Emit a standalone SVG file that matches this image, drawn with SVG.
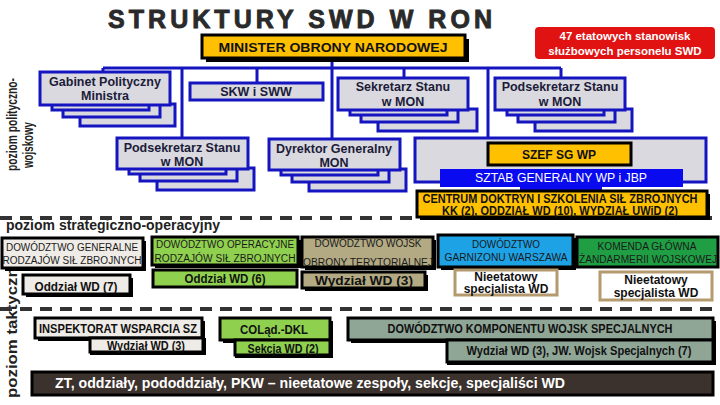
<svg xmlns="http://www.w3.org/2000/svg" width="720" height="405" viewBox="0 0 720 405">
<style>
.g{fill:#d9d9df;stroke:#1414c0;stroke-width:3}
.bt{font-family:"Liberation Sans",Arial,sans-serif;font-weight:bold;font-size:12.5px;fill:#1c1c3a;text-anchor:middle}
.bl{stroke:#1414c0;stroke-width:3;fill:none}
.sh{fill:#000}
.ob{stroke:#000;stroke-width:3}
.lt{font-family:"Liberation Sans",Arial,sans-serif;font-size:10px;fill:#1a1a1a;text-anchor:middle}
.bd{font-family:"Liberation Sans",Arial,sans-serif;font-weight:bold;font-size:12px;fill:#111;text-anchor:middle}
.dash{stroke:#333;stroke-width:4;stroke-dasharray:12 8;fill:none}
.side{font-family:"Liberation Sans",Arial,sans-serif;font-weight:bold;fill:#222}
</style>
<rect width="720" height="405" fill="#fff"/>

<!-- title -->
<text x="300" y="28" font-family="Liberation Sans,Arial,sans-serif" font-weight="bold" font-size="25" fill="#2a2a2a" stroke="#2a2a2a" stroke-width="0.9" text-anchor="middle" textLength="384" lengthAdjust="spacing">STRUKTURY SWD W RON</text>

<!-- connectors -->
<g id="connectors" class="bl">
<path d="M332 58V139"/>
<path d="M103 68H561"/>
<path d="M103 68V72"/>
<path d="M182 68V138"/>
<path d="M257 68V83"/>
<path d="M404 68V78"/>
<path d="M488 68V138"/>
<path d="M561 68V78"/>
</g>

<!-- minister -->
<g id="minister">
<rect class="sh" x="206" y="39" width="263" height="23"/>
<rect x="202" y="35" width="263" height="23" fill="#ffc000" class="ob"/>
<text x="333" y="52" class="bd" font-size="13" textLength="229" lengthAdjust="spacingAndGlyphs">MINISTER OBRONY NARODOWEJ</text>
</g>

<!-- red note -->
<g id="note">
<rect x="535" y="27" width="180" height="32" rx="4" fill="#e01212"/>
<text x="625" y="40" font-family="Liberation Sans,Arial,sans-serif" font-weight="bold" font-size="11.5" fill="#fff" text-anchor="middle">47 etatowych stanowisk</text>
<text x="625" y="55" font-family="Liberation Sans,Arial,sans-serif" font-weight="bold" font-size="11.5" fill="#fff" text-anchor="middle">służbowych personelu SWD</text>
</g>

<!-- side labels -->
<g id="side-labels">
<text class="side" font-size="14" transform="translate(17,171) rotate(-90)" textLength="93" lengthAdjust="spacingAndGlyphs">poziom polityczno-</text>
<text class="side" font-size="14" transform="translate(33,168) rotate(-90)" textLength="46" lengthAdjust="spacingAndGlyphs">wojskowy</text>
<text class="side" font-size="14" transform="translate(17,398) rotate(-90)" textLength="140" lengthAdjust="spacingAndGlyphs">poziom taktyczny</text>
<text class="side" x="6" y="230" font-size="14" textLength="214" lengthAdjust="spacingAndGlyphs">poziom strategiczno-operacyjny</text>
</g>

<!-- Gabinet -->
<g id="gabinet">
<rect class="g" x="80" y="104" width="95" height="22"/>
<rect class="g" x="63" y="104" width="97" height="13"/>
<rect class="g" x="52" y="104" width="97" height="6"/>
<rect class="g" x="40" y="72" width="130" height="33"/>
<text class="bt" x="105" y="86">Gabinet Polityczny</text>
<text class="bt" x="105" y="100">Ministra</text>
</g>

<!-- SKW -->
<g id="skw">
<rect class="g" x="190" y="83" width="133" height="17"/>
<text class="bt" x="256" y="96">SKW i SWW</text>
</g>

<!-- Sekretarz Stanu -->
<g id="sekretarz">
<rect class="g" x="378" y="109" width="99" height="22"/>
<rect class="g" x="361" y="109" width="97" height="13"/>
<rect class="g" x="350" y="109" width="97" height="6"/>
<rect class="g" x="338" y="78" width="130" height="32"/>
<text class="bt" x="403" y="91">Sekretarz Stanu</text>
<text class="bt" x="403" y="106">w MON</text>
</g>

<!-- Podsekretarz right -->
<g id="podsekretarz-1">
<rect class="g" x="535" y="109" width="97" height="22"/>
<rect class="g" x="518" y="109" width="97" height="13"/>
<rect class="g" x="507" y="109" width="97" height="6"/>
<rect class="g" x="495" y="78" width="130" height="32"/>
<text class="bt" x="560" y="91">Podsekretarz Stanu</text>
<text class="bt" x="560" y="106">w MON</text>
</g>

<!-- Podsekretarz left -->
<g id="podsekretarz-2">
<rect class="g" x="157" y="168" width="97" height="22"/>
<rect class="g" x="140" y="168" width="97" height="13"/>
<rect class="g" x="129" y="168" width="97" height="6"/>
<rect class="g" x="117" y="138" width="131" height="31"/>
<text class="bt" x="182" y="152">Podsekretarz Stanu</text>
<text class="bt" x="182" y="166">w MON</text>
</g>

<!-- Dyrektor -->
<g id="dyrektor">
<rect class="g" x="309" y="169" width="97" height="22"/>
<rect class="g" x="292" y="169" width="97" height="13"/>
<rect class="g" x="281" y="169" width="97" height="6"/>
<rect class="g" x="269" y="139" width="131" height="31"/>
<text class="bt" x="334" y="153">Dyrektor Generalny</text>
<text class="bt" x="334" y="167">MON</text>
</g>

<!-- dashed separators -->
<g id="separators">
<path class="dash" d="M0 218H720"/>
<path class="dash" d="M0 309H720"/>
</g>

<!-- Sztab Generalny -->
<g id="sztab">
<rect class="g" x="415" y="138" width="291" height="44"/>
<rect x="488" y="143" width="143" height="22" fill="#ffc000" class="ob"/>
<text class="bd" x="559" y="159" font-size="13">SZEF SG WP</text>
<rect x="440" y="169" width="243" height="18" fill="#0a0af0"/>
<rect x="520" y="186" width="82" height="5" fill="#0a0af0"/>
<text x="561" y="182" font-family="Liberation Sans,Arial,sans-serif" font-size="12" fill="#fff" text-anchor="middle" textLength="172" lengthAdjust="spacingAndGlyphs">SZTAB GENERALNY WP i JBP</text>
</g>

<!-- Centrum -->
<g id="centrum">
<rect class="sh" x="420" y="194" width="290" height="26"/>
<rect x="417" y="191" width="290" height="26" fill="#ffc000" class="ob"/>
<text class="bd" x="560" y="203" font-size="10" textLength="275" lengthAdjust="spacingAndGlyphs">CENTRUM DOKTRYN I SZKOLENIA SIŁ ZBROJNYCH</text>
<text class="bd" x="560" y="214.5" font-size="10" textLength="236" lengthAdjust="spacingAndGlyphs">KK (2), ODDZIAŁ WD (10), WYDZIAŁ UWiD (2)</text>
</g>

<!-- DGRSZ -->
<g id="dgrsz">
<rect class="sh" x="5" y="241" width="141" height="30"/>
<rect x="2" y="238" width="141" height="30" fill="#efebe6" class="ob"/>
<text class="lt" x="72" y="251" textLength="132" lengthAdjust="spacingAndGlyphs">DOWÓDZTWO GENERALNE</text>
<text class="lt" x="72" y="264" textLength="139" lengthAdjust="spacingAndGlyphs">RODZAJÓW SIŁ ZBROJNYCH</text>
<rect class="sh" x="26" y="278" width="107" height="19"/>
<rect x="23" y="275" width="107" height="19" fill="#efebe6" class="ob"/>
<text class="bd" x="76" y="291" textLength="83" lengthAdjust="spacingAndGlyphs">Oddział WD (7)</text>
</g>

<!-- DORSZ -->
<g id="dorsz">
<rect class="sh" x="155" y="240" width="146" height="28"/>
<rect x="152" y="237" width="146" height="28" fill="#8fd14f" class="ob"/>
<text class="lt" x="225" y="248" textLength="138" lengthAdjust="spacingAndGlyphs">DOWÓDZTWO OPERACYJNE</text>
<text class="lt" x="225" y="262" textLength="141" lengthAdjust="spacingAndGlyphs">RODZAJÓW SIŁ ZBROJNYCH</text>
<rect x="153" y="270" width="144" height="17" fill="#8fd14f" class="ob"/>
<text class="bd" x="225" y="283" textLength="81" lengthAdjust="spacingAndGlyphs">Oddział WD (6)</text>
</g>

<!-- DWOT -->
<g id="dwot">
<rect class="sh" x="305" y="240" width="131" height="30"/>
<rect x="302" y="237" width="131" height="30" fill="#b3aa83" class="ob"/>
<text class="lt" x="368" y="247" textLength="107" lengthAdjust="spacingAndGlyphs">DOWÓDZTWO WOJSK</text>
<text class="lt" x="368" y="266" textLength="130" lengthAdjust="spacingAndGlyphs">OBRONY TERYTORIALNEJ</text>
<rect class="sh" x="305" y="275" width="123" height="16"/>
<rect x="302" y="272" width="123" height="16" fill="#b3aa83" class="ob"/>
<text class="bd" x="364" y="285" textLength="98" lengthAdjust="spacingAndGlyphs">Wydział WD (3)</text>
</g>

<!-- DGW -->
<g id="dgw">
<rect class="sh" x="441" y="238" width="135" height="32"/>
<rect x="438" y="235" width="135" height="32" fill="#1ea2e6" class="ob"/>
<text class="lt" x="506" y="248" fill="#1a2a5a" textLength="68" lengthAdjust="spacingAndGlyphs">DOWÓDZTWO</text>
<text class="lt" x="506" y="261" fill="#1a2a5a" textLength="123" lengthAdjust="spacingAndGlyphs">GARNIZONU WARSZAWA</text>
<rect x="455" y="270" width="102" height="25" fill="#fff" stroke="#b49a6e" stroke-width="3"/>
<text class="bd" x="506" y="281" font-size="11.5">Nieetatowy</text>
<text class="bd" x="506" y="293" font-size="11.5">specjalista WD</text>
</g>

<!-- KGZW -->
<g id="kgzw">
<rect x="577" y="237" width="141" height="30" fill="#1f9e44" class="ob"/>
<text class="lt" x="647" y="250" textLength="99" lengthAdjust="spacingAndGlyphs">KOMENDA GŁÓWNA</text>
<text class="lt" x="648" y="263" textLength="138" lengthAdjust="spacingAndGlyphs">ŻANDARMERII WOJSKOWEJ</text>
<rect x="600" y="272" width="112" height="28" fill="#fff" stroke="#b49a6e" stroke-width="3"/>
<text class="bd" x="656" y="284" font-size="11.5">Nieetatowy</text>
<text class="bd" x="656" y="297" font-size="11.5">specjalista WD</text>
</g>

<!-- Inspektorat -->
<g id="iwsz">
<rect class="sh" x="38" y="321" width="167" height="20"/>
<rect x="35" y="318" width="167" height="20" fill="#efebe6" class="ob"/>
<text class="bd" x="118" y="333" font-size="11" textLength="158" lengthAdjust="spacingAndGlyphs">INSPEKTORAT WSPARCIA SZ</text>
<rect class="sh" x="90" y="338" width="116" height="17"/>
<rect x="90" y="338" width="113" height="14" fill="#efebe6" class="ob"/>
<text class="bd" x="146" y="350" font-size="10.5" textLength="78" lengthAdjust="spacingAndGlyphs">Wydział WD (3)</text>
</g>

<!-- COLad-DKL -->
<g id="colad">
<rect class="sh" x="223" y="321" width="110" height="22"/>
<rect x="220" y="318" width="110" height="22" fill="#8fd14f" class="ob"/>
<text class="bd" x="274" y="334" textLength="68" lengthAdjust="spacingAndGlyphs">COLąd.-DKL</text>
<rect class="sh" x="235" y="340" width="98" height="18"/>
<rect x="235" y="340" width="95" height="15" fill="#8fd14f" class="ob"/>
<text class="bd" x="283" y="353" font-size="10.5" textLength="71" lengthAdjust="spacingAndGlyphs">Sekcja WD (2)</text>
</g>

<!-- DKWS -->
<g id="dkws">
<rect class="sh" x="351" y="321" width="365" height="22"/>
<rect x="348" y="318" width="365" height="22" fill="#8fa596" class="ob"/>
<text class="bd" x="530" y="333" font-size="10.5" textLength="285" lengthAdjust="spacingAndGlyphs">DOWÓDZTWO KOMPONENTU WOJSK SPECJALNYCH</text>
<rect class="sh" x="447" y="340" width="269" height="25"/>
<rect x="447" y="340" width="266" height="22" fill="#8fa596" class="ob"/>
<text class="bd" x="579" y="355" font-size="10.5" textLength="225" lengthAdjust="spacingAndGlyphs">Wydział WD (3), JW. Wojsk Specjalnych (7)</text>
</g>

<!-- ZT bar -->
<g id="zt">
<rect x="32" y="372" width="681" height="23" fill="#3b312d" class="ob"/>
<text x="55" y="388" font-family="Liberation Sans,Arial,sans-serif" font-weight="bold" font-size="14" fill="#fff" textLength="510" lengthAdjust="spacingAndGlyphs">ZT, oddziały, pododdziały, PKW – nieetatowe zespoły, sekcje, specjaliści WD</text>
</g>
</svg>
